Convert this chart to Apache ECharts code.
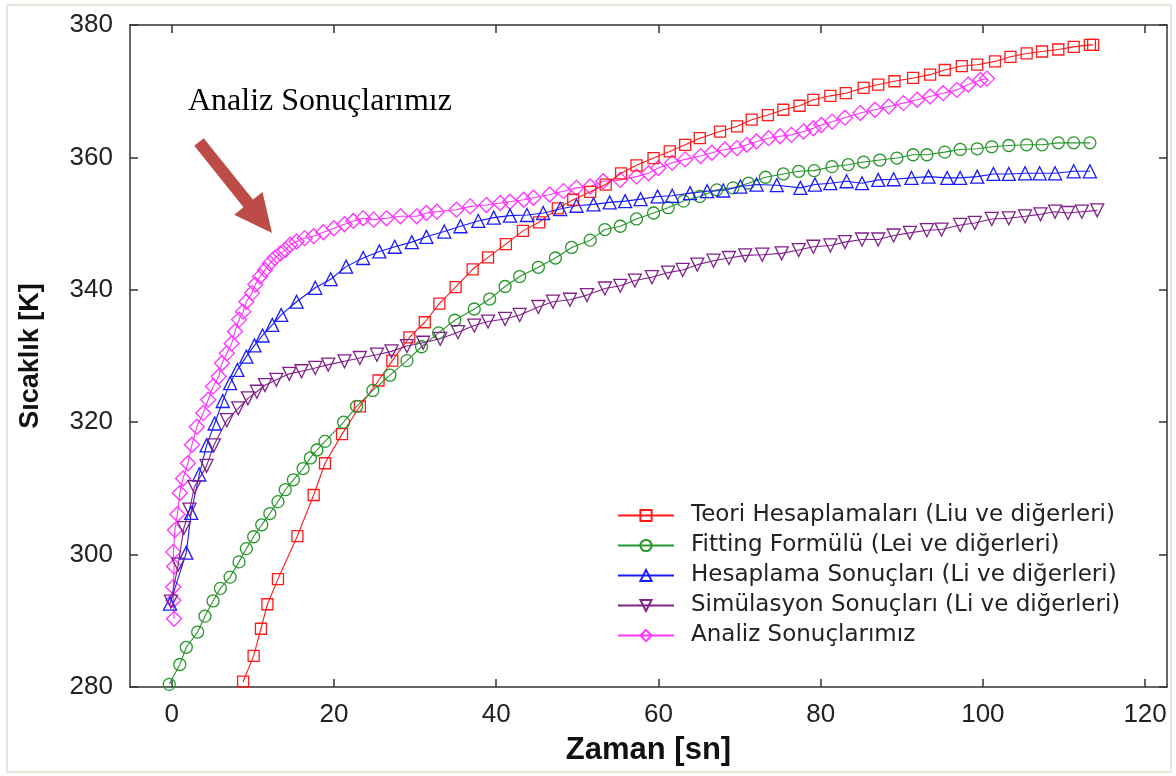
<!DOCTYPE html>
<html><head><meta charset="utf-8">
<script src="https://cdn.jsdelivr.net/npm/echarts@6/dist/echarts.min.js"></script>
<style>html,body{margin:0;padding:0;background:#fff}#c{width:1176px;height:776px}</style>
</head><body><div id="c"></div>
<script>
const seriesNames = [
  'Teori Hesaplamaları (Liu ve diğerleri)',
  'Fitting Formülü (Lei ve diğerleri)',
  'Hesaplama Sonuçları (Li ve diğerleri)',
  'Simülasyon Sonuçları (Li ve diğerleri)',
  'Analiz Sonuçlarımız'
];
const xTickValues = [0, 20, 40, 60, 80, 100, 120];
const yTickValues = [280, 300, 320, 340, 360, 380];
const xAxisTitle = 'Zaman [sn]';
const yAxisTitle = 'Sıcaklık [K]';
const annotationText = 'Analiz Sonuçlarımız';

const teoriX = [8.8,10.1,11.0,11.8,13.1,15.5,17.5,18.9,21.0,23.2,25.5,27.2,29.3,31.2,33.0,35.0,37.1,39.0,41.2,43.3,45.3,47.6,49.5,51.6,53.5,55.4,57.3,59.4,61.4,63.3,65.1,67.6,69.7,71.5,73.5,75.4,77.4,79.1,81.2,83.1,85.3,87.1,89.1,91.4,93.5,95.3,97.4,99.3,101.5,103.4,105.4,107.3,109.3,111.2,113.2,113.6];
const teoriY = [280.8,284.7,288.8,292.5,296.3,302.8,309.0,313.8,318.2,322.4,326.3,329.3,332.8,335.1,337.9,340.4,343.1,344.9,346.9,348.9,350.2,352.3,353.6,354.8,355.9,357.6,358.8,359.9,360.9,361.9,362.9,363.9,364.7,365.7,366.4,367.2,367.8,368.7,369.3,369.7,370.5,371.0,371.5,372.0,372.5,373.2,373.8,374.0,374.5,375.2,375.7,376.0,376.3,376.7,377.0,377.0];

const fittingX = [-0.3,1.0,1.8,3.2,4.1,5.1,6.0,7.2,8.3,9.2,10.1,11.1,12.1,13.1,14.0,15.0,16.2,17.1,17.9,18.9,21.2,22.8,24.8,26.9,29.0,30.8,32.9,34.9,37.3,39.2,41.1,42.9,45.2,47.3,49.3,51.6,53.4,55.3,57.3,59.4,61.2,63.1,65.1,67.2,69.2,71.1,73.2,75.4,77.3,79.2,81.4,83.4,85.3,87.3,89.4,91.4,93.1,95.3,97.2,99.3,101.1,103.2,105.4,107.3,109.3,111.2,113.2];
const fittingY = [280.4,283.4,286.0,288.3,290.7,293.0,294.9,296.6,298.9,300.9,302.7,304.5,306.2,308.0,309.8,311.3,313.0,314.6,315.8,317.1,320.0,322.4,324.8,327.1,329.3,331.4,333.5,335.4,337.1,338.6,340.5,342.0,343.4,344.8,346.4,347.5,349.1,349.6,350.7,351.6,352.4,353.4,354.1,355.1,355.4,356.1,357.0,357.5,357.9,358.0,358.6,358.9,359.3,359.6,359.9,360.4,360.4,360.8,361.2,361.3,361.6,361.8,361.9,361.9,362.2,362.2,362.2];

const hesaplamaX = [-0.2,1.8,2.4,3.4,4.3,5.3,6.3,7.2,8.1,9.2,10.2,11.2,12.4,13.5,15.4,17.7,19.6,21.5,23.6,25.6,27.5,29.6,31.4,33.6,35.6,37.8,39.7,41.7,43.8,45.8,47.9,49.9,52.0,54.0,55.9,57.8,59.9,61.7,63.9,66.0,68.0,70.1,72.1,74.6,77.5,79.3,81.2,83.2,85.1,87.1,89.0,91.2,93.3,95.6,97.2,99.3,101.3,103.2,105.2,107.0,108.9,111.2,113.2];
const hesaplamaY = [292.6,300.3,306.3,312.1,316.5,319.8,323.2,325.9,327.9,329.9,331.6,333.1,334.7,336.2,338.2,340.3,341.6,343.5,344.8,345.8,346.5,347.2,348.0,348.8,349.6,350.4,350.9,351.2,351.3,351.6,352.2,352.7,352.9,353.2,353.4,353.7,354.1,354.2,354.6,354.9,355.0,355.6,355.9,355.8,355.4,355.9,356.1,356.4,356.1,356.6,356.7,356.9,357.1,356.9,356.9,357.1,357.5,357.5,357.6,357.6,357.6,357.9,357.9];

const simulasyonX = [-0.1,0.8,1.5,2.2,2.8,4.3,5.2,6.8,8.2,9.4,10.5,11.5,12.9,14.5,16.0,17.7,19.3,21.3,23.2,25.3,27.1,29.0,31.0,33.1,35.3,37.3,39.0,41.1,42.9,45.2,47.0,49.1,51.2,53.4,55.3,57.1,59.2,61.2,63.0,64.8,66.8,68.7,70.7,72.8,75.2,77.3,79.1,81.2,83.0,85.1,87.1,89.0,91.0,93.1,94.9,97.2,99.0,101.1,103.2,105.2,107.1,108.9,110.5,112.2,114.1];
const simulasyonY = [292.9,298.5,304.0,306.8,310.2,313.4,316.5,320.3,322.1,323.6,324.6,325.6,326.4,327.3,327.7,328.2,328.7,329.2,329.7,330.2,330.7,331.5,332.0,332.6,333.6,334.6,335.2,335.6,336.2,337.4,338.2,338.5,339.2,340.2,340.6,341.4,341.9,342.6,343.0,343.8,344.4,344.8,345.2,345.3,345.5,346.0,346.5,346.7,347.2,347.6,347.6,348.2,348.6,349.0,349.1,349.8,350.1,350.7,350.8,351.1,351.4,351.8,351.6,351.8,352.0];

const analizX = [0.3,0.2,0.2,0.3,0.2,0.4,0.7,1.0,1.4,2.0,2.5,3.1,3.9,4.5,5.1,5.8,6.2,6.8,7.4,7.8,8.3,8.8,9.2,9.9,10.3,10.9,11.5,12.1,12.7,13.4,14.0,14.6,15.4,16.4,17.5,18.7,20.0,21.3,22.4,23.6,24.9,26.5,28.2,30.2,31.4,32.7,35.1,36.8,38.8,40.5,41.7,43.4,44.6,46.6,48.3,49.9,51.6,53.2,55.3,57.3,58.8,60.0,61.7,63.3,65.2,66.6,68.2,69.7,70.9,72.1,73.6,75.0,76.4,77.9,79.1,80.1,81.4,83.0,84.9,86.7,88.4,90.2,91.9,93.5,95.1,96.8,98.2,99.7,100.5];
const analizY = [290.3,293.1,295.1,298.2,300.4,303.7,306.1,309.3,311.5,313.8,316.6,319.3,321.4,323.4,325.4,326.9,328.9,330.4,331.9,333.7,335.5,336.7,338.2,339.5,340.8,342.0,343.0,344.0,344.8,345.5,346.0,346.8,347.3,347.8,348.1,348.7,349.3,349.9,350.4,350.8,350.6,350.8,351.1,351.1,351.6,351.8,352.1,352.6,352.8,353.1,353.3,353.6,353.9,354.4,354.9,355.4,355.6,356.4,356.6,357.1,357.6,358.4,359.2,359.7,360.2,360.7,361.2,361.4,361.9,362.4,362.9,363.2,363.4,363.9,364.4,364.9,365.4,366.0,366.7,367.2,367.7,368.2,368.7,369.2,369.7,370.2,371.0,371.7,371.9];

const zip = (xs, ys) => xs.map((x, i) => [x, ys[i]]);
const axisLineStyle = { color: '#333', width: 1.5 };
const xMin = -5.14, xMax = 122.7;

function mkSeries(name, xs, ys, symbol, size, color, rotate, z) {
  return {
    name, type: 'line', data: zip(xs, ys), xAxisIndex: 0, yAxisIndex: 0,
    symbol, symbolSize: size, symbolRotate: rotate || 0, showAllSymbol: true,
    itemStyle: { color: 'rgba(255,255,255,0)', borderColor: color, borderWidth: 1.3 },
    lineStyle: { color, width: 1.1 },
    emphasis: { disabled: true }, z
  };
}

const chart = echarts.init(document.getElementById('c'), null, { renderer: 'canvas' });
chart.setOption({
  animation: false,
  backgroundColor: '#fff',
  grid: { left: 130, right: 9, top: 25, bottom: 89 },
  xAxis: [
    { type: 'value', min: xMin, max: xMax, position: 'bottom',
      axisLine: { show: true, onZero: false, lineStyle: axisLineStyle },
      axisTick: { show: true, inside: true, length: 8, lineStyle: axisLineStyle, customValues: xTickValues },
      axisLabel: { customValues: xTickValues, fontFamily: 'Liberation Sans', fontSize: 26, color: '#222', margin: 15 },
      splitLine: { show: false },
      name: xAxisTitle, nameLocation: 'middle', nameGap: 48,
      nameTextStyle: { fontFamily: 'Liberation Sans', fontSize: 31, fontWeight: 'bold', color: '#111' } },
    { type: 'value', min: xMin, max: xMax, position: 'top',
      axisLine: { show: true, onZero: false, lineStyle: axisLineStyle },
      axisTick: { show: true, inside: true, length: 8, lineStyle: axisLineStyle, customValues: xTickValues },
      axisLabel: { show: false }, splitLine: { show: false } }
  ],
  yAxis: [
    { type: 'value', min: 280, max: 380, interval: 20, position: 'left',
      axisLine: { show: true, onZero: false, lineStyle: axisLineStyle },
      axisTick: { show: true, inside: true, length: 8, lineStyle: axisLineStyle },
      axisLabel: { fontFamily: 'Liberation Sans', fontSize: 26, color: '#222', margin: 17 },
      splitLine: { show: false },
      name: yAxisTitle, nameLocation: 'middle', nameGap: 86, nameRotate: 90,
      nameTextStyle: { fontFamily: 'Liberation Sans', fontSize: 27, fontWeight: 'bold', color: '#111' } },
    { type: 'value', min: 280, max: 380, interval: 20, position: 'right',
      axisLine: { show: true, onZero: false, lineStyle: axisLineStyle },
      axisTick: { show: true, inside: true, length: 8, lineStyle: axisLineStyle },
      axisLabel: { show: false }, splitLine: { show: false } }
  ],
  legend: {
    orient: 'vertical', left: 612, top: 499, itemWidth: 56, itemHeight: 14, itemGap: 7,
    data: seriesNames,
    textStyle: { fontFamily: 'DejaVu Sans', fontSize: 23, lineHeight: 22, color: '#222', padding: [0, 0, 0, 12] }
  },
  series: [
    mkSeries(seriesNames[0], teoriX, teoriY, 'rect', 11, '#ff1a1a', 0, 3),
    mkSeries(seriesNames[1], fittingX, fittingY, 'circle', 12, '#27962a', 0, 3),
    mkSeries(seriesNames[2], hesaplamaX, hesaplamaY, 'triangle', 13, '#1a1aff', 0, 3),
    mkSeries(seriesNames[3], simulasyonX, simulasyonY, 'triangle', 13, '#80208a', 180, 3),
    mkSeries(seriesNames[4], analizX, analizY, 'diamond', 15, '#ff33ff', 0, 2)
  ],
  graphic: [
    { type: 'rect', silent: true, z: -1, shape: { x: 7, y: 5, width: 1164, height: 767 },
      style: { fill: 'none', stroke: '#ebe6dc', lineWidth: 2 } },
    { type: 'text', left: 188, top: 86, silent: true,
      style: { text: annotationText, font: '32px "Liberation Serif"', fill: '#000' } },
    { type: 'polygon', silent: true,
      shape: { points: [[194.3,145.8],[203.7,138.2],[252.9,199.6],[262.5,192.0],[272,233],[234.2,214.8],[243.5,207.2]] },
      style: { fill: '#bd4b47' } }
  ]
});
</script></body></html>
